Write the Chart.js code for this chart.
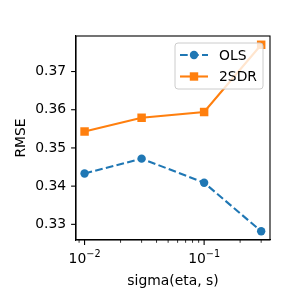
<!DOCTYPE html>
<html>
<head>
<meta charset="utf-8">
<script src="https://cdn.jsdelivr.net/npm/chart.js@4.4.1/dist/chart.umd.min.js"></script>
<style>
  html, body { margin: 0; padding: 0; background: #fff; }
  #wrap { width: 300px; height: 300px; }
</style>
</head>
<body>
<div id="wrap"><canvas id="chart" width="300" height="300"></canvas></div>
<script>
// values
const sigmaValues = [0.01, 0.03, 0.1, 0.3];
const olsRmse = [0.3433, 0.3472, 0.3409, 0.3282];
const sdrRmse = [0.3543, 0.3579, 0.3594, 0.3770];
const seriesNames = ["OLS", "2SDR"];
const yTicks = [0.33, 0.34, 0.35, 0.36, 0.37];
const xMajorTicks = [0.01, 0.1];
const xMajorExponents = ["\u22122", "\u22121"];
const xMinorTicks = [0.009, 0.02, 0.03, 0.04, 0.05, 0.06, 0.07, 0.08, 0.09, 0.2, 0.3];

const FONT = "'DejaVu Sans', sans-serif";
const FS = 13.9;

// tick marks, 10^n labels, top/right spines and the boxed legend
const frameAndLegend = {
    id: "frameAndLegend",
    afterDraw(chart) {
        const ctx = chart.ctx;
        const ca = chart.chartArea;
        const xs = chart.scales.x;
        const ys = chart.scales.y;
        ctx.save();
        ctx.strokeStyle = "#000";
        ctx.lineWidth = 1.1;
        ctx.strokeRect(ca.left, ca.top, ca.right - ca.left, ca.bottom - ca.top);

        // x ticks + labels
        ctx.lineWidth = 1.1;
        xMajorTicks.forEach((v, i) => {
            const px = xs.getPixelForValue(v);
            ctx.beginPath();
            ctx.moveTo(px, ca.bottom);
            ctx.lineTo(px, ca.bottom + 4.9);
            ctx.stroke();

            ctx.fillStyle = "#000";
            ctx.textBaseline = "alphabetic";
            ctx.textAlign = "left";
            ctx.font = FS + "px " + FONT;
            const baseW = ctx.measureText("10").width;
            ctx.font = "9.7px " + FONT;
            const expW = ctx.measureText(xMajorExponents[i]).width;
            const x0 = px - (baseW + expW) / 2;
            ctx.font = FS + "px " + FONT;
            ctx.fillText("10", x0, ca.bottom + 23.3);
            ctx.font = "9.7px " + FONT;
            ctx.fillText(xMajorExponents[i], x0 + baseW, ca.bottom + 17.3);
        });
        ctx.lineWidth = 0.8;
        xMinorTicks.forEach((v) => {
            const px = xs.getPixelForValue(v);
            ctx.beginPath();
            ctx.moveTo(px, ca.bottom);
            ctx.lineTo(px, ca.bottom + 2.8);
            ctx.stroke();
        });
        // y ticks
        ctx.lineWidth = 1.1;
        yTicks.forEach((v) => {
            const py = ys.getPixelForValue(v);
            ctx.beginPath();
            ctx.moveTo(ca.left, py);
            ctx.lineTo(ca.left - 4.9, py);
            ctx.stroke();
        });

        // legend box
        const bw = 88, bh = 46;
        const bx = ca.right - 7 - bw;
        const by = ca.top + 7;
        ctx.beginPath();
        ctx.roundRect(bx, by, bw, bh, 3);
        ctx.fillStyle = "rgba(255,255,255,0.8)";
        ctx.fill();
        ctx.strokeStyle = "#cccccc";
        ctx.lineWidth = 1;
        ctx.stroke();

        chart.data.datasets.forEach((ds, i) => {
            const cy = by + 12 + i * 21.5;
            const x0 = bx + 5, x1 = bx + 33, cx = (x0 + x1) / 2;
            ctx.strokeStyle = ds.borderColor;
            ctx.lineWidth = 2.1;
            ctx.setLineDash(ds.borderDash || []);
            ctx.beginPath();
            ctx.moveTo(x0, cy);
            ctx.lineTo(x1, cy);
            ctx.stroke();
            ctx.setLineDash([]);
            ctx.fillStyle = ds.borderColor;
            if (ds.pointStyle === "rect") {
                ctx.fillRect(cx - 4.2, cy - 4.2, 8.4, 8.4);
            } else {
                ctx.beginPath();
                ctx.arc(cx, cy, 4.2, 0, Math.PI * 2);
                ctx.fill();
            }
            ctx.fillStyle = "#000";
            ctx.font = FS + "px " + FONT;
            ctx.textBaseline = "middle";
            ctx.textAlign = "left";
            ctx.fillText(ds.label, bx + 44, cy + 1);
        });
        ctx.restore();
    },
};

const toPoints = (ys) => sigmaValues.map((x, i) => ({ x: x, y: ys[i] }));

new Chart(document.getElementById("chart"), {
    type: "line",
    data: {
        datasets: [
            {
                label: seriesNames[0],
                data: toPoints(olsRmse),
                borderColor: "#1f77b4",
                backgroundColor: "#1f77b4",
                borderWidth: 2.1,
                borderDash: [7.7, 3.3],
                pointStyle: "circle",
                pointRadius: 4.2,
                pointBorderWidth: 0,
                clip: false,
            },
            {
                label: seriesNames[1],
                data: toPoints(sdrRmse),
                borderColor: "#ff7f0e",
                backgroundColor: "#ff7f0e",
                borderWidth: 2.1,
                pointStyle: "rect",
                pointRadius: 6,
                pointBorderWidth: 0,
                clip: false,
            },
        ],
    },
    options: {
        responsive: false,
        animation: false,
        layout: { padding: { left: 0, top: 36, right: 30, bottom: 0 } },
        plugins: { legend: { display: false }, tooltip: { enabled: false } },
        scales: {
            x: {
                type: "logarithmic",
                min: 0.00848,
                max: 0.3556,
                afterBuildTicks: (scale) => {
                    scale.ticks = xMajorTicks.map((v) => ({ value: v }));
                },
                afterFit: (scale) => { scale.height = 60; },
                grid: { drawOnChartArea: false, drawTicks: false },
                border: { display: true, color: "#000", width: 1.1 },
                ticks: { display: false },
                title: {
                    display: true,
                    text: "sigma(eta, s)",
                    color: "#000",
                    font: { family: FONT, size: FS },
                    padding: { top: 0, bottom: 10 },
                },
            },
            y: {
                min: 0.3259,
                max: 0.3793,
                afterBuildTicks: (scale) => {
                    scale.ticks = yTicks.map((v) => ({ value: v }));
                },
                afterFit: (scale) => { scale.width = 76; },
                grid: { drawOnChartArea: false, drawTicks: false },
                border: { display: true, color: "#000", width: 1.1 },
                ticks: {
                    padding: 9.8,
                    color: "#000",
                    font: { family: FONT, size: FS },
                    callback: (v) => v.toFixed(2),
                },
                title: {
                    display: true,
                    text: "RMSE",
                    color: "#000",
                    font: { family: FONT, size: FS },
                    padding: { top: 13, bottom: 0 },
                },
            },
        },
    },
    plugins: [frameAndLegend],
});
</script>
</body>
</html>
